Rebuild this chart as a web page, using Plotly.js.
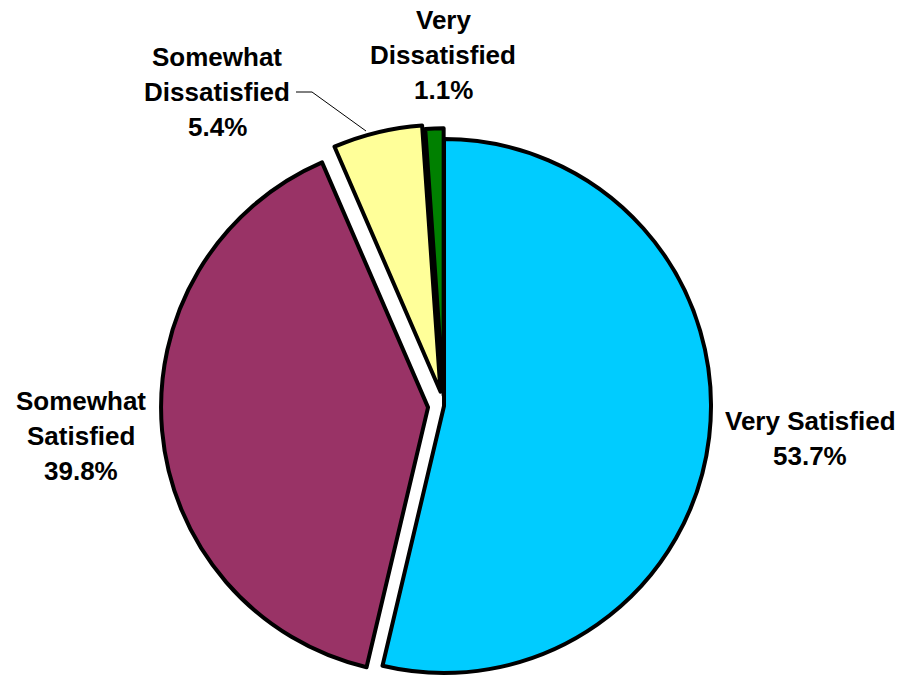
<!DOCTYPE html>
<html>
<head>
<meta charset="utf-8">
<script src="https://cdn.plot.ly/plotly-3.0.1.min.js"></script>
<style>
html,body{margin:0;padding:0;overflow:hidden;background:#fff;}
#chart{width:901px;height:720px;}
</style>
</head>
<body>
<div id="chart"></div>
<script>
// ---- data ----
const categories = ['Very Satisfied', 'Somewhat Satisfied', 'Somewhat Dissatisfied', 'Very Dissatisfied'];
const values = [53.7, 39.8, 5.4, 1.1];
const labelLines = [['Very Satisfied'], ['Somewhat', 'Satisfied'], ['Somewhat', 'Dissatisfied'], ['Very', 'Dissatisfied']];

// ---- styles ----
const colors = ['#00CCFF', '#993366', '#FFFF99', '#008000'];
const pulls = [0, 0.06, 0.055, 0.04];
const labelPos = [[810, 421], [81, 401], [217, 57], [443, 20]]; // px: center x, first line middle y
const lineGap = 35;
const W = 901, H = 720;

const annotations = [];
const total = values.reduce((a, b) => a + b, 0);
categories.forEach((c, i) => {
  const lines = labelLines[i].concat([(values[i] / total * 100).toFixed(1) + '%']);
  lines.forEach((t, j) => {
    annotations.push({
      xref: 'paper', yref: 'paper',
      x: labelPos[i][0] / W, y: 1 - (labelPos[i][1] + j * lineGap) / H,
      xanchor: 'center', yanchor: 'middle',
      text: t, showarrow: false,
      font: {family: 'Liberation Sans, Arial, sans-serif', size: 26, color: '#000', weight: 'bold'}
    });
  });
});

const trace = {
  type: 'pie',
  labels: categories,
  values: values,
  sort: false,
  direction: 'clockwise',
  rotation: 0,
  pull: pulls,
  textinfo: 'none',
  hoverinfo: 'label+percent',
  marker: {colors: colors, line: {color: '#000', width: 4}},
  domain: {x: [0.1787, 0.8069], y: [0, 0.87222]},
  showlegend: false
};

const leader = [[296, 92], [312, 92], [366, 131]];
const path = leader.map((p, k) => (k ? 'L' : 'M') + (p[0] / W) + ',' + (1 - p[1] / H)).join(' ');

const layout = {
  width: W, height: H,
  margin: {l: 0, r: 0, t: 0, b: 0},
  paper_bgcolor: '#fff',
  showlegend: false,
  annotations: annotations,
  shapes: [{type: 'path', xref: 'paper', yref: 'paper', path: path, line: {color: '#000', width: 1}}]
};

Plotly.newPlot('chart', [trace], layout, {displayModeBar: false, staticPlot: true});
</script>
</body>
</html>
